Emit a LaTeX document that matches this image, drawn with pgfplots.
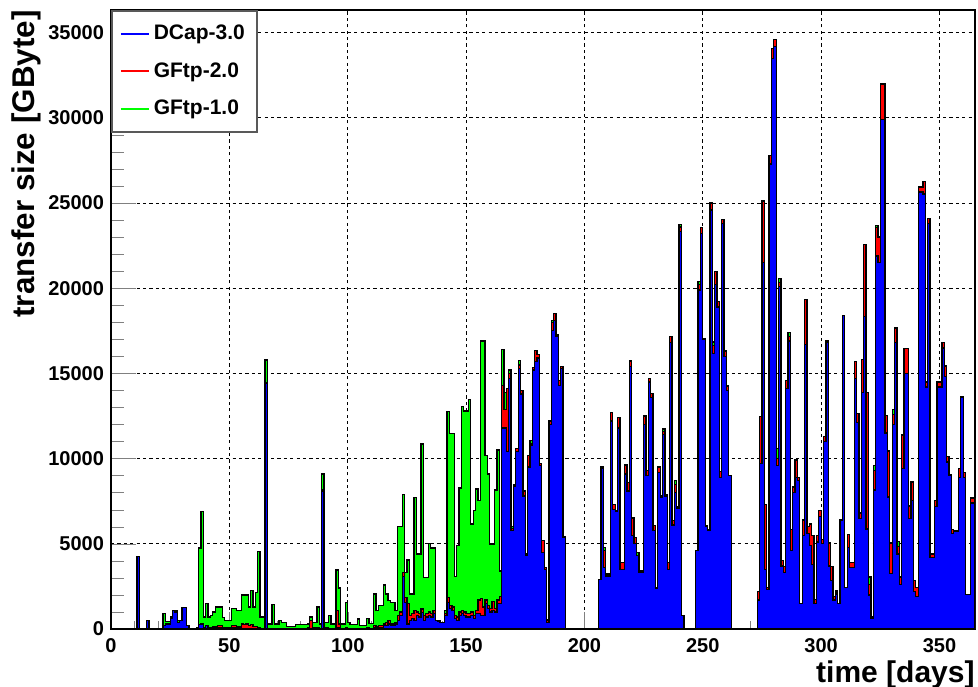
\documentclass[border=0pt]{standalone}
\usepackage{fontspec}
\setmainfont{Liberation Sans}
\usepackage{pgfplots}
\usepackage{pgfplotstable}
\pgfplotsset{compat=1.18}
\pgfplotsset{
  layers/gridbelow/.define layer set={axis background,axis grid,main,axis ticks,axis lines,axis tick labels,axis descriptions,axis foreground}{},
}
\definecolor{rblue}{RGB}{0,0,255}
\definecolor{rred}{RGB}{255,0,0}
\definecolor{rgreen}{RGB}{0,255,0}

% cumulative tops per day: b = DCap-3.0, r = + GFtp-2.0, t = + GFtp-1.0
\pgfplotstableread{
d b r t
0 0 0 0
11 4260 4260 4260
12 0 0 0
15 500 500 500
16 0 0 0
22 200 200 900
23 300 300 450
24 300 300 450
25 600 600 700
26 1070 1070 1100
27 1000 1000 1070
28 400 400 500
29 500 500 500
30 1270 1270 1270
31 1270 1270 1270
32 200 200 200
33 0 0 0
36 0 0 100
37 250 250 4750
38 300 300 6900
39 100 100 700
40 200 200 1500
41 100 100 700
42 100 100 800
43 100 150 1000
44 100 150 1300
45 100 200 1300
46 100 200 1300
47 50 100 680
48 50 100 500
51 100 200 1200
52 100 200 1200
53 100 150 1100
54 100 150 1100
55 50 300 2000
56 50 250 2000
57 50 300 2000
58 50 200 1300
59 50 250 2250
60 50 150 1300
61 50 150 2150
62 50 100 4550
63 0 50 700
65 14400 14450 15780
66 0 50 300
68 0 50 1450
69 0 0 300
71 0 0 500
72 0 0 400
74 0 0 150
78 0 50 250
83 0 100 300
84 0 500 700
85 0 100 400
87 0 100 1300
88 0 0 300
89 8100 8150 9090
90 0 100 400
92 0 50 800
93 0 50 300
95 100 1100 3460
96 100 300 2400
97 0 50 300
99 0 100 1550
100 0 50 400
101 0 0 250
104 0 0 580
105 0 0 200
108 0 100 600
109 0 50 330
111 100 200 2050
112 100 150 1080
113 100 200 1370
115 200 300 2580
116 200 400 2050
117 300 500 1660
118 200 300 1560
120 300 400 1080
121 500 800 6020
122 800 1000 6020
123 3100 3300 7880
124 1560 1860 3320
125 300 1500 4050
126 500 800 2050
127 600 900 2050
128 500 1100 7720
129 800 1000 4400
130 700 900 4400
131 980 1180 10850
132 500 800 3030
133 700 900 3030
134 800 1000 5030
135 700 900 4760
136 900 1100 4760
137 490 490 490
138 450 450 490
139 400 400 400
141 800 900 1080
142 1560 1860 12760
143 1200 1400 11470
144 1100 1300 11470
145 600 800 3070
146 500 700 4900
147 800 1000 8270
148 900 1100 13040
149 800 1000 12800
150 700 900 12800
151 700 900 13490
152 800 1000 6160
153 600 800 6940
154 900 1100 8210
155 900 1700 7530
156 800 1800 16910
157 800 1300 16910
158 1500 1700 10170
159 1200 1400 9090
160 1000 1200 4990
161 1100 1600 4990
162 1000 1200 8150
163 1500 1700 10500
164 1500 1900 3400
165 11800 14300 16400
166 11800 12900 13900
167 10400 14100 14100
168 14700 15000 15200
169 5800 5900 6000
170 8400 8400 8500
171 10400 10600 10600
172 15300 15500 15750
173 13800 14000 14000
174 7800 8100 8100
175 4300 4400 4400
176 9500 10200 10200
177 10800 10900 11050
178 15200 15350 15350
179 15700 16350 16350
180 15900 16100 16100
181 9600 9700 9700
182 4500 5200 5200
183 3500 3600 3600
184 400 500 550
185 12000 12200 12200
186 17500 18000 18100
187 18100 18500 18500
188 17200 17300 17300
189 14300 14600 14600
190 15300 15400 15400
191 5400 5400 5400
192 0 0 0
206 2900 2900 2900
207 9400 9450 9500
208 3600 4600 4800
209 3100 3150 3230
210 3100 3150 3230
211 12200 12700 12700
212 7000 7300 7300
213 6900 6940 6940
214 11800 12400 12400
215 3500 3900 3900
217 9100 9600 9640
218 8100 8600 8600
219 15400 15700 15740
220 5470 6510 6510
221 5000 5380 5380
222 4300 4300 4500
223 3300 3400 3420
225 12000 12500 12510
226 9000 9290 9290
227 14500 14720 14720
228 13600 13820 13820
229 5800 6060 6060
230 2400 2440 2440
231 9200 9500 9520
232 7700 7800 7800
233 11400 11600 11730
234 7800 7900 7900
235 3500 3900 3910
236 16800 17150 17150
237 6100 6350 6350
238 8000 8500 8700
239 7100 7200 7200
240 23350 23600 23750
241 780 780 780
242 0 0 0
247 4600 4600 4600
248 19900 20200 20400
249 23200 23550 23550
250 17000 17060 17060
251 6000 6060 6060
252 5800 5830 5830
253 24600 25000 25000
254 16150 16650 16840
255 20200 20990 20990
256 18900 19220 19220
257 8900 9230 9230
258 23800 24030 24030
259 16000 16310 16310
260 14000 14270 14270
261 9000 9000 9000
262 0 0 0
273 1700 2200 2200
274 9700 12460 12460
275 21500 25120 25120
276 3500 7310 7310
277 2300 2430 2430
278 27300 27800 27800
279 33500 34080 34080
280 34200 34600 34600
281 9600 10000 10600
282 20100 20330 20580
283 3700 4020 4020
284 3300 3680 3680
285 14100 14570 14570
286 16900 17150 17400
287 4600 5830 5830
288 8000 8330 8330
289 8900 9920 9920
290 8700 8900 8900
291 1500 1500 1500
292 5500 6400 6400
293 16700 19330 19330
294 5600 6000 6000
295 4900 6170 6170
296 3800 5490 5490
297 1500 1750 1750
298 5100 5490 5490
299 6600 6970 6970
300 5000 5260 5260
301 11000 11280 11280
302 16840 16900 16940
303 3700 5040 5040
304 2850 3680 3680
305 1700 1910 1910
306 2050 2130 2230
307 1500 1500 1500
308 6390 6390 6390
309 18400 18400 18400
310 2430 2430 2430
311 4800 5560 5560
312 3600 3890 3890
314 14700 15710 15710
315 12100 12630 12630
316 6500 6800 6800
317 13900 15800 15800
318 18360 22580 22580
319 5870 13880 13880
320 2000 2600 3060
321 600 700 700
322 8160 9310 9610
323 21890 23550 23700
324 21500 23000 23000
325 29900 31980 31980
326 29900 31980 31980
327 11500 12530 12530
328 7740 10450 10450
329 3270 5040 5040
330 12000 12600 12900
331 16800 17670 17670
332 4400 4840 5140
333 2600 3060 3060
334 9400 11380 11380
335 15000 16480 16480
337 6490 7220 7220
338 7530 8620 8620
339 2200 2850 2850
340 1900 2430 2430
341 25640 25950 25950
343 25530 26260 26260
344 14200 14500 14500
345 23800 24080 24080
346 4200 4410 4410
348 7200 7530 7530
349 14200 14500 14500
351 16500 16830 16830
352 14800 15440 15440
353 9800 10130 10130
354 9030 9030 9030
355 5600 5830 5830
356 5760 5760 5760
358 8900 9400 9400
359 13610 13610 13610
360 8900 9200 9200
361 2020 2020 2020
363 7400 7680 7680
365 0 0 0
}\histdata

\begin{document}
\begin{tikzpicture}
\begin{axis}[
  set layers=gridbelow,
  scale only axis, width=432pt, height=309.5pt,
  xmin=0, xmax=365, ymin=0, ymax=36330,
  xtick={0,50,...,350}, ytick={0,5000,...,35000},
  minor x tick num=4, minor y tick num=4,
  tick pos=left, tick align=inside,
  major tick length=12.5pt, minor tick length=6.5pt,
  xtick style={/pgfplots/major tick length=8.5pt, /pgfplots/minor tick length=4.2pt},
  grid=major,
  major grid style={black, line width=0.4pt, dash pattern=on 1.6pt off 1.6pt},
  axis line style={line width=0.8pt},
  scaled y ticks=false,
  /pgf/number format/1000 sep={},
  /pgf/number format/assume math mode=true,
  tick label style={font=\bfseries\fontsize{10}{12}\selectfont},
  xticklabel style={yshift=-1pt},
  label style={font=\bfseries\fontsize{15}{18}\selectfont, inner sep=0pt},
  xlabel={time [days]},
  xlabel style={at={(axis description cs:1,-0.0735)}, anchor=east},
  ylabel={transfer size [GByte]},
  ylabel style={at={(axis description cs:-0.0978,1)}, anchor=east,
    font=\bfseries\fontsize{15.7}{18}\selectfont},
  legend style={at={(0,1)}, anchor=north west, draw=black!65, line width=0.8pt,
    fill=white, font=\bfseries\fontsize{10.5}{12}\selectfont,
    inner xsep=4pt, inner ysep=5pt, row sep=6pt},
  legend cell align=left,
  legend image code/.code={\draw[#1, line width=1pt] (0pt,0pt) -- (14pt,0pt);},
]
\addplot[const plot, fill=rgreen, draw=black, line width=0.65pt, forget plot]
  table[x=d, y=t] {\histdata} \closedcycle;
\addplot[const plot, fill=rred, draw=black, line width=0.65pt, forget plot]
  table[x=d, y=r] {\histdata} \closedcycle;
\addplot[const plot, fill=rblue, draw=black, line width=0.65pt, forget plot]
  table[x=d, y=b] {\histdata} \closedcycle;
\addlegendimage{rblue}
\addlegendentry{DCap-3.0}
\addlegendimage{rred}
\addlegendentry{GFtp-2.0}
\addlegendimage{rgreen}
\addlegendentry{GFtp-1.0}
\end{axis}
\pgfresetboundingbox
\path[use as bounding box] (-55.5pt,-28.5pt) rectangle (433.5pt,314.5pt);
\end{tikzpicture}
\end{document}
